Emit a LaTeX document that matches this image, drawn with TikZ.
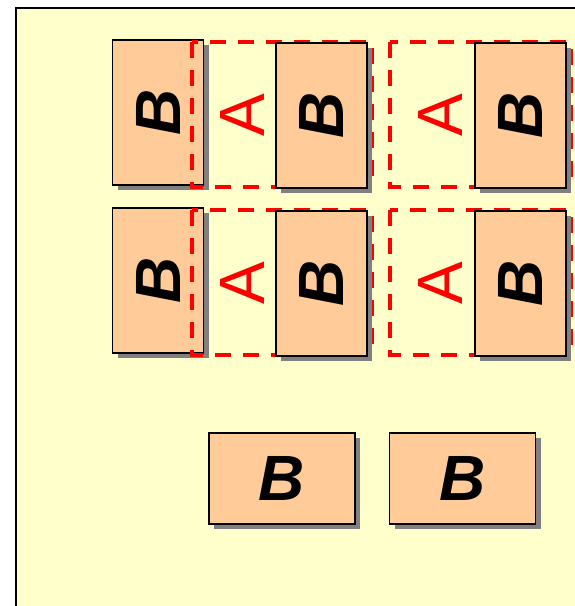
\documentclass[tikz,border=0pt]{standalone}
\usepackage{fontspec}
\setmainfont{Liberation Sans}
\usepackage{graphicx}
\usetikzlibrary{shadows}
\definecolor{paper}{HTML}{FFFFCC}
\definecolor{peach}{HTML}{FFCC99}
\definecolor{shade}{HTML}{808080}

\begin{document}
\begin{tikzpicture}[x=1pt, y=-1pt,
	boxB/.style={draw=black, line width=1.6pt, fill=peach, inner sep=0pt,
		drop shadow={shadow xshift=5pt, shadow yshift=-5pt, fill=shade, opacity=1},
		font=\fontsize{64}{64}\selectfont\bfseries\itshape},
	tall/.style={minimum width=91pt, minimum height=145pt},
	wide/.style={minimum width=146pt, minimum height=91pt},
	zoneA/.style={red, line width=3.5pt, dash pattern=on 16pt off 12pt},
	letterA/.style={red, inner sep=0pt, font=\fontsize{64}{64}\selectfont}]
	\useasboundingbox (0,0) rectangle (575,606);
	\clip (0,0) rectangle (575,606);
	\draw[line width=2pt, fill=paper] (16,8) rectangle (600,630);

	% first row
	\node[boxB, tall] (b11) at (158,112.5) {\rotatebox{90}{B}};
	\draw[zoneA] (192,42) rectangle (372,187);
	\node[letterA] (a11) at (242,115) {\rotatebox{90}{A}};
	\node[boxB, tall] (b12) at (321.5,115.5) {\rotatebox{90}{B}};
	\draw[zoneA] (390,42) rectangle (571,187);
	\node[letterA] (a12) at (440,115) {\rotatebox{90}{A}};
	\node[boxB, tall] (b13) at (520.5,115.5) {\rotatebox{90}{B}};

	% second row
	\node[boxB, tall] (b21) at (158,280.5) {\rotatebox{90}{B}};
	\draw[zoneA] (192,210) rectangle (372,355);
	\node[letterA] (a21) at (242,283) {\rotatebox{90}{A}};
	\node[boxB, tall] (b22) at (321.5,283.5) {\rotatebox{90}{B}};
	\draw[zoneA] (390,210) rectangle (571,355);
	\node[letterA] (a22) at (440,283) {\rotatebox{90}{A}};
	\node[boxB, tall] (b23) at (520.5,283.5) {\rotatebox{90}{B}};

	% bottom row
	\node[boxB, wide] (b31) at (282,478.5) {B};
	\node[boxB, wide] (b32) at (462.5,478.5) {B};
\end{tikzpicture}
\end{document}
